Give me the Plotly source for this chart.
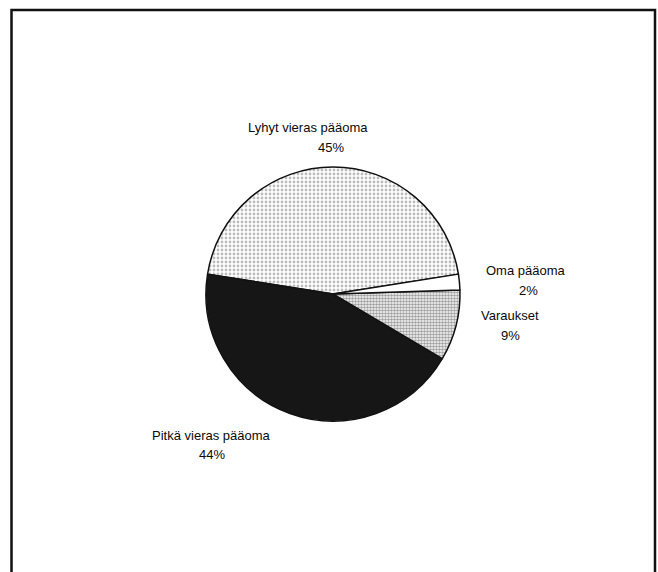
import plotly.graph_objects as go

labels = ["Lyhyt vieras pääoma", "Pitkä vieras pääoma", "Varaukset", "Oma pääoma"]
values = [45, 44, 9, 2]
pct_text = ["45%", "44%", "9%", "2%"]

fills = ["#ffffff", "#161616", "#ffffff", "#ffffff"]
pattern_shapes = [".", "", ".", ""]
pattern_fg = ["#7a7a7a", "#161616", "#404040", "#ffffff"]
pattern_size = [4, 4, 3, 4]
pattern_solid = [0.4, 0.3, 0.6, 0.3]

fig = go.Figure(go.Pie(
    labels=labels,
    values=values,
    sort=False,
    direction="counterclockwise",
    rotation=-81,
    textinfo="none",
    hoverinfo="label+percent",
    showlegend=False,
    marker=dict(
        colors=fills,
        line=dict(color="#111111", width=1.5),
        pattern=dict(shape=pattern_shapes, fgcolor=pattern_fg, bgcolor=fills,
                     size=pattern_size, solidity=pattern_solid, fillmode="overlay"),
    ),
    domain=dict(x=[206 / 658, 460 / 658], y=[151 / 572, 405 / 572]),
))

W, H = 658, 572
label_pos = {
    "Lyhyt vieras pääoma": [(308, 127, labels[0]), (331, 147, pct_text[0])],
    "Pitkä vieras pääoma": [(211, 435, labels[1]), (212, 454, pct_text[1])],
    "Varaukset": [(510, 315, labels[2]), (510, 335, pct_text[2])],
    "Oma pääoma": [(526, 270, labels[3]), (528, 290, pct_text[3])],
}
annotations = []
for key, items in label_pos.items():
    for (px, py, txt) in items:
        annotations.append(dict(
            x=px / W, y=1 - py / H, xref="paper", yref="paper",
            text=txt, showarrow=False, xanchor="center", yanchor="middle",
            font=dict(family="Liberation Sans, Arial, Helvetica",
                      size=13, color="#0a0a0a"),
        ))

fig.update_layout(
    width=W, height=H,
    margin=dict(l=0, r=0, t=0, b=0),
    paper_bgcolor="white",
    plot_bgcolor="white",
    annotations=annotations,
    shapes=[dict(type="rect", xref="paper", yref="paper",
                 x0=11.5 / W, x1=655 / W, y0=-0.05, y1=1 - 10 / H,
                 line=dict(color="#111111", width=2.5))],
)

fig.write_html("out.html",
               config={"displayModeBar": False},
               post_script="document.body.style.margin='0';document.body.style.overflow='hidden';")
